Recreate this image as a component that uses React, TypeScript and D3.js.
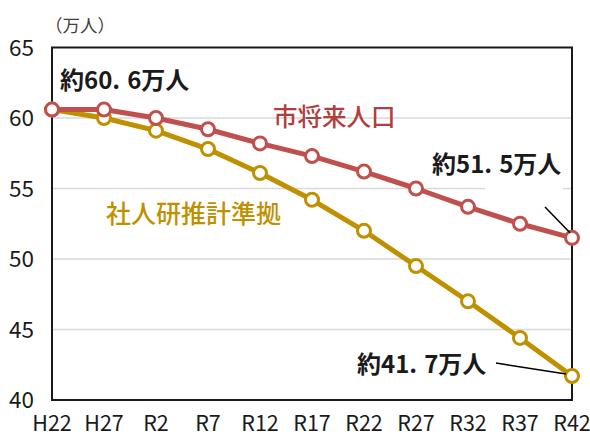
import React from 'react';
import * as d3 from 'd3';

const categories = ['H22', 'H27', 'R2', 'R7', 'R12', 'R17', 'R22', 'R27', 'R32', 'R37', 'R42'];
const cityValues = [60.6, 60.6, 60.0, 59.2, 58.2, 57.3, 56.2, 55.0, 53.7, 52.5, 51.5];
const ipssValues = [60.6, 60.0, 59.1, 57.8, 56.1, 54.2, 52.0, 49.5, 47.0, 44.4, 41.7];
const yTicks = [40, 45, 50, 55, 60, 65];
const gridTicks = [45, 50, 55, 60];

const RED = '#C0504D';
const GOLD = '#BF9000';
const NUM_FONT = '"Liberation Sans Narrow", "Noto Sans CJK JP", sans-serif';
const CJK_FONT = '"Noto Sans CJK JP", sans-serif';

function Callout({ x, y, whole, frac }: { x: number; y: number; whole: string; frac: string }) {
  return (
    <text x={x} y={y} fontFamily={NUM_FONT} fontSize={24} fontWeight={700} fill="#1a1a1a">
      約{whole}.<tspan dx={7}>{frac}万人</tspan>
    </text>
  );
}

export default function App() {
  const W = 590, H = 436;
  const left = 52, right = 572, top = 47.5, bottom = 400;
  const x = d3.scalePoint<string>().domain(categories).range([left, right]);
  const y = d3.scaleLinear().domain([40, 65]).range([bottom, top]);
  const line = d3.line<number>().x((_, i) => x(categories[i]) as number).y(d => y(d));

  const lastX = x(categories[categories.length - 1]) as number;
  const cityLast = y(cityValues[cityValues.length - 1]);
  const ipssLast = y(ipssValues[ipssValues.length - 1]);

  const series = [
    { values: ipssValues, color: GOLD },
    { values: cityValues, color: RED },
  ];

  return (
    <svg width={W} height={H} style={{ position: 'absolute', left: 0, top: 0, background: '#fff' }}>
      {gridTicks.map(t => (
        <line key={t} x1={left} x2={right} y1={y(t)} y2={y(t)} stroke="#D9D9D9" strokeWidth={1.5} />
      ))}
      <rect x={485} y={y(55) - 4} width={78} height={8} fill="#fff" />
      <rect x={left} y={top} width={right - left} height={bottom - top} fill="none" stroke="#1a1a1a" strokeWidth={2} />
      {yTicks.map(t => (
        <text key={t} x={34} y={y(t) + 8} textAnchor="end" fontFamily={NUM_FONT} fontSize={22.5} fill="#1a1a1a">{t}</text>
      ))}
      {categories.map(c => (
        <text key={c} x={x(c)} y={431} textAnchor="middle" fontFamily={NUM_FONT} fontSize={21.5} fill="#1a1a1a">{c}</text>
      ))}
      <text x={45} y={32} fontFamily={CJK_FONT} fontSize={17.5} fill="#404040">（万人）</text>

      {series.map((s, si) => (
        <g key={si}>
          <path d={line(s.values) as string} fill="none" stroke={s.color} strokeWidth={5} strokeLinejoin="round" />
          {s.values.map((v, i) => (
            <circle key={i} cx={x(categories[i])} cy={y(v)} r={6.5} fill="#fff" stroke={s.color} strokeWidth={3} />
          ))}
        </g>
      ))}

      <text x={273} y={126} fontFamily={CJK_FONT} fontSize={24.5} fontWeight={500} fill="#B03F3D">市将来人口</text>
      <text x={106} y={223} fontFamily={CJK_FONT} fontSize={25} fontWeight={500} fill={GOLD}>社人研推計準拠</text>

      <Callout x={60} y={89} whole="60" frac="6" />
      <Callout x={432} y={173} whole="51" frac="5" />
      <Callout x={357} y={373} whole="41" frac="7" />

      <line x1={545} y1={207} x2={lastX - 2} y2={cityLast - 5} stroke="#000" strokeWidth={1.5} />
      <line x1={496} y1={363} x2={lastX - 6} y2={ipssLast - 2} stroke="#000" strokeWidth={1.5} />
    </svg>
  );
}
